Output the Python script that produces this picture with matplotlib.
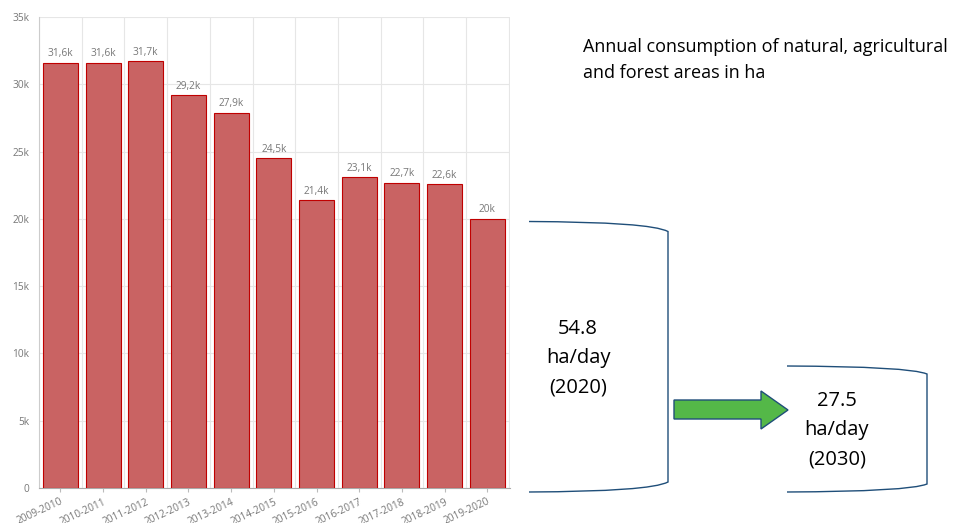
import matplotlib.pyplot as plt
from matplotlib.path import Path
from matplotlib.patches import PathPatch, Polygon
import numpy as np

periods = ["2009-2010", "2010-2011", "2011-2012", "2012-2013", "2013-2014", "2014-2015",
           "2015-2016", "2016-2017", "2017-2018", "2018-2019", "2019-2020"]
consumption_ha = [31600, 31600, 31700, 29200, 27900, 24500, 21400, 23100, 22700, 22600, 20000]
y_ticks = [0, 5000, 10000, 15000, 20000, 25000, 30000, 35000]

title_text = "Annual consumption of natural, agricultural\nand forest areas in ha"
rate_2020 = "54.8\nha/day\n(2020)"
rate_2030 = "27.5\nha/day\n(2030)"

W, H = 963, 523
plt.rcParams['font.family'] = ['Open Sans', 'DejaVu Sans']
fig = plt.figure(figsize=(W / 100, H / 100), dpi=100)

def k_label(v):
    s = f"{v / 1000:.1f}".rstrip('0').rstrip('.')
    return s.replace('.', ',') + 'k'

# bar chart
ax = fig.add_axes([39 / W, (H - 488) / H, (510 - 39) / W, (488 - 17) / H])
x = np.arange(len(periods))
ax.bar(x, consumption_ha, width=0.82, color='#c96363', edgecolor='#c00000', linewidth=0.8, zorder=3)
for xi, v in zip(x, consumption_ha):
    ax.text(xi, v + 250, k_label(v), ha='center', va='bottom', fontsize=7.3, color='#777777')
ax.set_xlim(-0.48, 10.53)
ax.set_ylim(0, 35000)
ax.set_yticks(y_ticks)
ax.set_yticklabels([k_label(t) if t else '0' for t in y_ticks])
ax.set_xticks(x)
ax.set_xticklabels(periods, rotation=25, ha='right', rotation_mode='anchor')
ax.set_xticks(np.arange(len(periods) + 1) - 0.5, minor=True)
ax.tick_params(axis='both', labelsize=7.3, labelcolor='#777777', length=0, pad=7)
ax.tick_params(axis='x', which='major', length=3, color='#bbbbbb', pad=3)
ax.tick_params(axis='x', which='minor', length=0)
ax.grid(True, axis='y', color='#e6e6e6', linewidth=0.8, zorder=0)
ax.grid(True, axis='x', which='minor', color='#e6e6e6', linewidth=0.8, zorder=0)
for s in ['top', 'right']:
    ax.spines[s].set_visible(False)
ax.spines['left'].set_color('#cccccc')
ax.spines['bottom'].set_color('#aaaaaa')

# overlay in pixel coordinates for the annotation shapes
ov = fig.add_axes([0, 0, 1, 1])
ov.set_xlim(0, W)
ov.set_ylim(H, 0)
ov.axis('off')

ov.text(583, 60, title_text, ha='left', va='center', fontsize=13, color='black',
        linespacing=1.5)

def bracket(x0, x1, ytop, ybot, bend):
    verts = [(x0, ytop), (x1 - 18, ytop + 0.5), (x1, ytop + bend),
             (x1, ybot - bend),
             (x1 - 18, ybot - 0.5), (x0, ybot)]
    codes = [Path.MOVETO, Path.CURVE3, Path.CURVE3, Path.LINETO, Path.CURVE3, Path.CURVE3]
    ov.add_patch(PathPatch(Path(verts, codes), fill=False, edgecolor='#1f4e79', linewidth=1.0))

bracket(529, 668, 221.5, 492, 10)
bracket(787, 927, 366, 492, 8)

ov.text(578, 358, rate_2020, ha='center', va='center', fontsize=14.5, linespacing=1.6)
ov.text(837, 430, rate_2030, ha='center', va='center', fontsize=14.5, linespacing=1.6)

arrow = [(674, 400), (761, 400), (761, 391), (788, 410), (761, 429), (761, 419), (674, 419)]
ov.add_patch(Polygon(arrow, closed=True, facecolor='#54b848', edgecolor='#1f4e79', linewidth=1.0))

fig.savefig('out.png', dpi=100)
